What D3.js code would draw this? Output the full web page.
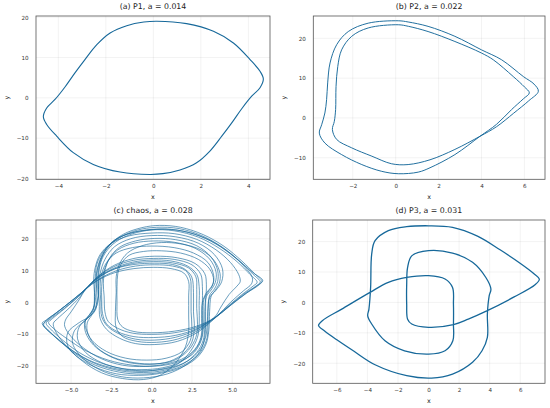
<!DOCTYPE html>
<html>
<head>
<meta charset="utf-8">
<script src="https://cdn.jsdelivr.net/npm/d3@7"></script>
<style>
  body { margin: 0; background: white; }
</style>
</head>
<body>
<div id="chart"></div>
<script>
// ---- data (x, y pairs along each trajectory) ----

// (a) period-1 orbit
let p1Orbit = [
  [-4.63,-4.7],[-4.49,-2.5],[-4.14,-0.4],[-3.72,2.7],[-3.3,6.2],[-2.88,9.5],[-2.38,13.2],
  [-1.82,16.1],[-1.12,17.9],[-0.4,18.8],[0.15,19.0],[1.4,18.4],[2.53,16.5],[3.37,13.6],
  [4.07,9.5],[4.49,6.6],[4.63,4.7],[4.49,2.5],[4.14,0.4],[3.72,-2.7],[3.3,-6.2],[2.88,-9.5],
  [2.38,-13.2],[1.82,-16.1],[1.12,-17.9],[0.4,-18.8],[-0.15,-19.0],[-1.4,-18.4],[-2.53,-16.5],
  [-3.37,-13.6],[-4.07,-9.5],[-4.49,-6.6]
];

// (b) period-2 orbit
let p2Orbit = [
  [0.12,24.4],[-1.28,23.8],[-2.21,21.7],[-2.75,18.4],[-3.06,13.8],[-3.17,8.8],[-3.22,4.6],
  [-3.3,1.25],[-3.45,-1.7],[-3.56,-3.8],[-3.3,-6.3],[-2.52,-9.2],[-1.58,-11.7],[-0.65,-13.4],
  [0.12,-14.0],[1.05,-13.6],[1.6,-12.5],[2.76,-9.2],[3.93,-4.6],
  [4.7,-1.6],[5.4,2.1],[5.95,4.8],[6.23,6.3],
  [6.0,7.8],[5.48,10.4],[4.55,14.6],[4.0,16.3],[2.76,19.2],[1.51,21.7],[0.6,23.0],[0.12,23.4],
  [-1.28,22.6],[-2.05,20.5],[-2.52,17.1],[-2.7,12.9],[-2.78,7.9],[-2.8,2.1],[-2.86,-0.85],
  [-2.95,-2.9],[-2.75,-5.4],[-2.05,-7.5],[-1.11,-9.6],[-0.19,-11.5],[0.58,-11.7],[1.6,-10.5],
  [2.76,-7.9],[3.93,-4.6],
  [4.7,-2.2],[5.5,1.2],[6.2,4.3],[6.65,6.7],
  [6.45,8.5],[5.95,10.4],[4.94,14.6],[4.0,17.1],[2.76,20.5],[1.51,23.0],[0.58,24.1]
];

// (c) chaotic trajectory, traced pass by pass
let chaosPass1 = [
  [-3.3,2],[-3.35,6],[-3.3,10],[-3.1,14],[-2.6,18],[-1.8,21.3],[-0.6,23.5],[0.5,24.2],[1.8,23.6],
  [3.2,21.3],[4.5,17.6],[5.6,13],[6.4,9],[6.85,6.6],[6.6,5.4],[5.8,2.6],[4.9,-0.9],[4.0,-4.6],
  [2.8,-7.9],[1.4,-9.6],[0,-10.1],[-1.2,-9.7],[-2.1,-8.2],[-2.7,-6],[-2.9,-3],[-2.95,2],[-3.0,6],
  [-2.9,10],[-2.6,14],[-2.0,17.3],[-1.0,19.3],[0.2,20.1],[1.5,19.7],[2.8,17.8],[3.7,14.2],[4.1,10],
  [4.1,6.5],[3.9,4.2],[3.6,2.2],[3.5,-2],[3.45,-7],[3.35,-11],[3.0,-15],[2.2,-18.6],[1.0,-20.8],
  [-0.3,-21.6],[-1.7,-21],[-3.2,-19],[-4.5,-15.8],[-5.6,-11.6],[-6.3,-8.3],[-6.55,-6.6],[-6.3,-5.3],
  [-5.5,-2.2],[-4.6,1.6],[-4.1,4.1],[-3.3,7.2],[-2.2,9.9],[-1.0,11.4],[0.2,11.8],[1.3,11.4],[2.1,10],
  [2.4,7.5],[2.45,3],[2.45,-3],[2.5,-8],[2.4,-12],[1.9,-15.5],[0.9,-17.6],[-0.3,-18.2],
  [-1.6,-17.6],[-2.8,-15.5],[-3.7,-12],[-4.1,-8],[-4.1,-5.6],[-3.85,-3.8],[-3.6,-1.5],[-3.55,3],[-3.5,8]
];
let chaosPass2 = [
  [-3.4,12],[-3.0,16],[-2.3,19.5],[-1.3,21.8],[0,22.8],[1.4,22.5],[2.9,20.5],[4.2,17],[5.3,12.8],
  [6.1,8.8],[6.55,6.3],[6.3,5.1],[5.6,2.4],[4.8,-1],[4.0,-4.5],[2.8,-8.6],[1.5,-11],[0.2,-11.9],
  [-1.0,-11.6],[-2.0,-10],[-2.75,-7.5],[-3.1,-4.5],[-3.15,0],[-3.2,5],
  [-3.1,9],[-2.8,12.5],[-2.2,15.5],[-1.2,17.2],[0,17.7],[1.4,17.2],[2.6,15.5],[3.5,12.5],[3.85,8.5],
  [3.8,5.5],[3.5,3.2],[3.25,1],[3.2,-4],[3.2,-9],[3.0,-13],[2.5,-16.5],[1.5,-19],[0.2,-20.1],
  [-1.2,-19.8],[-2.7,-18.2],[-4.1,-15.2],[-5.3,-11.3],[-6.1,-8.2],[-6.4,-6.4],[-6.15,-5.1],[-5.4,-2],
  [-4.55,1.8],[-4.1,4.2],[-3.4,7.6],[-2.4,10.6],[-1.2,12.6],[0,13.3],[1.2,13],[2.2,11.5],[2.8,8.8],
  [2.95,5],[2.95,-1],[2.95,-7],[2.85,-11],[2.4,-15.5],[1.6,-19.5],[0.4,-21.2],
  [-1.0,-21.7],[-2.5,-20.6],[-3.9,-18.2],[-5.2,-14.2],[-6.2,-10],[-6.7,-7.3],[-6.6,-6],[-5.9,-3.2],
  [-4.9,0.7],[-4.15,4.0],[-3.3,8.3],[-2.3,11.7],[-1.1,13.8],[0.2,14.5],[1.6,14.0],[2.7,12.2],[3.3,9],
  [3.4,5.5],[3.35,0],[3.35,-6],[3.3,-11],[3.0,-15.5],[2.2,-19.5],[1.0,-22.5],[-0.5,-23.8]
];
let chaosPass3 = [
  [-1.9,-23.4],[-3.2,-21.3],[-4.3,-17.5],[-4.9,-13],[-4.8,-9],[-4.2,-6],[-3.8,-4],[-3.55,-1],
  [-3.45,4],[-3.4,9],
  [-3.2,13],[-2.8,16.8],[-2.0,20.3],[-0.9,22.7],[0.3,23.6],[1.7,23.2],[3.1,21],[4.4,17.3],[5.5,12.8],
  [6.3,8.8],[6.75,6.4],[6.5,5.2],[5.7,2.5],[4.85,-1],[4.0,-4.7],[2.9,-9.3],[1.6,-12.3],[0.2,-13.3],
  [-1.0,-13],[-2.0,-11.3],[-2.8,-8.5],[-3.2,-5],[-3.25,0],[-3.3,4],
  [-3.2,9],[-2.9,13.5],[-2.3,17.5],[-1.3,20],[0,21],[1.5,20.6],[2.9,18.6],[3.9,15],[4.4,10.5],
  [4.35,6.5],[4.0,3.8],[3.6,1.5],[3.5,-3],[3.5,-8],[3.4,-12],[2.9,-16.5],[1.9,-20],[0.6,-22],[-0.6,-22.6],
  [-2.0,-22],[-3.5,-19.8],[-4.8,-16],[-5.9,-11.3],[-6.5,-8.3],[-6.8,-6.6],[-6.55,-5.6],[-5.7,-2.5],
  [-4.75,1.4],[-4.1,4.1],[-3.3,7.8],[-2.3,10.5],[-1.1,11.9],[0.2,12.3],[1.3,11.9],[2.1,10.3],[2.5,7.8],
  [2.6,3],[2.6,-3],[2.65,-8],[2.5,-12.5],[2.0,-16],[1.1,-18.6],[-0.1,-19.5],
  [-1.4,-19],[-2.6,-17],[-3.6,-13.5],[-4.1,-9.5],[-4.15,-6.2],[-3.9,-4.2],[-3.6,-2],[-3.55,3],[-3.6,7]
];
let chaosPass4 = [
  [-3.5,11],[-3.2,15],[-2.5,18.6],[-1.4,20.9],[0,21.8],[1.4,21.6],[2.8,19.8],[4.0,16.5],[4.9,12.5],
  [5.4,8.8],[5.5,6.5],[5.3,5.1],[4.8,2.4],[4.3,-1.5],[3.9,-4.7],[2.8,-7.5],[1.4,-9.1],[0,-9.6],
  [-1.1,-9.2],[-1.8,-7.8],[-2.1,-5.5],[-2.15,0],[-2.15,5],[-2.1,9],
  [-1.9,12],[-1.4,14.8],[-0.5,16],[0.6,16.2],[1.8,15.5],[2.9,13.5],[3.6,10.5],[3.85,7],[3.7,4.8],
  [3.4,3],[3.15,0],[3.1,-5],[3.1,-10],[2.8,-14],[2.1,-17.3],[1.0,-19.3],[-0.4,-20.2],
  [-1.8,-19.8],[-3.1,-17.8],[-4.2,-14.5],[-5.0,-10.8],[-5.4,-7.5],[-5.35,-5.6],[-5.0,-3],[-4.5,0.8],
  [-4.1,4],[-3.3,7],[-2.3,9.3],[-1.1,10.6],[0.1,11],[1.2,10.6],[2.0,9.2],[2.3,6.5],[2.3,2],[2.3,-4],
  [2.3,-9],[2.1,-14],[1.5,-19],[0.6,-22.8],[-0.5,-24.3],
  [-1.8,-24],[-3.1,-22.2],[-4.3,-18.5],[-5.2,-13.8],[-5.2,-9.5],[-4.5,-6.4],[-3.8,-4.2],[-3.4,-1],[-3.3,2]
];
let chaosPass5 = [
  [-3.3,6],[-3.25,10.5],[-3.0,14.5],[-2.4,18.3],[-1.5,21],[-0.3,22.6],[0.9,23],[2.3,22],[3.7,19.3],
  [4.9,15.3],[5.8,11],[6.25,7.8],[6.2,5.8],[5.7,3.6],[4.9,0],[4.0,-4.6],[2.9,-8.8],[1.6,-11.6],
  [0.3,-12.6],[-0.9,-12.3],[-1.8,-10.8],[-2.2,-8],[-2.25,-3],[-2.2,3],[-2.2,8],
  [-2.0,12],[-1.5,15.5],[-0.6,17.8],[0.6,18.8],[1.9,18.3],[3.1,16.4],[3.9,13],[4.25,9],[4.2,6],
  [3.95,3.8],[3.7,2],[3.6,-3],[3.55,-9],[3.35,-13.5],[2.8,-17.5],[1.8,-20.6],[0.5,-22.4],[-0.8,-23],
  [-2.2,-22.5],[-3.6,-20.2],[-4.7,-16.8],[-5.5,-12.6],[-6.0,-8.8],[-6.1,-6.6],[-5.85,-5.2],[-5.2,-2.2],
  [-4.5,1.4],[-4.1,4.1],[-3.4,7.4],[-2.4,10.3],[-1.2,12.2],[0.1,12.8],[1.3,12.4],[2.3,10.8],[2.75,8],
  [2.8,4],[2.8,-2],[2.85,-7],[2.75,-11],[2.3,-15],[1.4,-18.3],[0.2,-19.4],
  [-1.1,-19],[-2.4,-17.3],[-3.4,-14.2],[-3.95,-10],[-4.0,-6.5],[-3.75,-4.3],[-3.45,-2],[-3.4,3],[-3.45,8]
];
let chaosPass6 = [
  [-3.3,12],[-2.95,16],[-2.3,19.6],[-1.2,21.9],[0.1,23],[1.5,22.8],[3.0,20.8],[4.3,17.4],[5.4,13.2],
  [6.3,9.3],[6.9,6.9],[6.7,5.6],[5.9,2.9],[4.95,-0.8],[4.0,-4.6],[2.85,-8.2],[1.5,-10.4],[0.1,-11.1],
  [-1.1,-10.8],[-2.1,-9.3],[-2.8,-6.8],[-3.05,-3.5],[-3.1,1],[-3.1,5],
  [-3.0,9],[-2.7,13],[-2.1,16.5],[-1.1,18.6],[0.1,19.3],[1.4,18.9],[2.7,17],[3.6,13.6],[4.0,9.5],
  [3.95,6.2],[3.7,3.9],[3.4,1.8],[3.3,-3],[3.3,-8],[3.2,-12],[2.8,-15.8],[2.0,-19.2],[0.8,-21.4],[-0.5,-22.1],
  [-1.9,-21.6],[-3.4,-19.5],[-4.7,-16],[-5.8,-11.6],[-6.5,-8.6],[-6.75,-7],[-6.5,-5.8],[-5.8,-2.9],
  [-4.85,0.9],[-4.1,4.1],[-3.35,8],[-2.35,11.2],[-1.15,13.2],[0.1,13.8],[1.4,13.5],[2.5,11.8],[3.05,8.8],
  [3.15,5],[3.15,-1],[3.15,-7],[3.1,-11],[2.7,-15],[1.9,-18.5],[0.7,-20.6],[-0.6,-21.2],
  [-1.9,-20.8],[-3.1,-19],[-4.1,-15.8],[-4.6,-11.5],[-4.5,-7.8],[-4.0,-5.2],[-3.6,-3],[-3.4,0],[-3.3,2]
];
let chaosTrack = [].concat(chaosPass1, chaosPass2, chaosPass3, chaosPass4, chaosPass5, chaosPass6);

// (d) period-3 orbit
let p3Orbit = [
  [-7.2,-7.6],[-6.95,-6.0],[-5.68,-2.2],[-3.83,3.3],[-2.63,6.6],[-1.43,8.2],[0,8.8],
  [1.08,7.7],[1.57,4.9],[1.63,-0.6],[1.63,-7.1],[1.59,-12.6],[1.08,-15.9],[0,-17.0],[-1.57,-15.9],
  [-2.85,-12.6],[-3.72,-7.1],[-3.98,-4.4],[-3.9,-2.2],[-3.79,4.9],[-3.72,15.9],[-3.5,20.3],[-2.63,23.6],
  [-1.43,24.9],[0,25.2],[1.57,24.7],[3.2,21.8],[4.68,17.3],[5.99,12.9],[6.86,9.6],[7.25,7.6],
  [6.97,5.8],[5.6,1.8],[3.81,-2.8],[2.6,-5.5],[1.63,-7.3],[0,-8.2],[-1.1,-7.1],[-1.37,-5.5],
  [-1.43,-0.6],[-1.43,5.9],[-1.37,11.5],[-1.1,15.3],[0,17.0],[1.57,16.2],[2.88,13.2],[3.75,8.2],
  [4.08,4.4],[3.97,2.2],[3.85,-3.8],[3.85,-11.5],[3.5,-15.9],[2.88,-19.7],[1.57,-23.6],[0.2,-24.9],
  [-1.43,-24.1],[-3.5,-20.5],[-4.9,-16],[-6.0,-12.3],[-6.8,-9.4]
];

// titles and tick values
let titles = ['(a) P1, a = 0.014', '(b) P2, a = 0.022', '(c) chaos, a = 0.028', '(d) P3, a = 0.031'];
let xTicksA = [-4, -2, 0, 2, 4],           yTicksA = [-20, -10, 0, 10, 20];
let xTicksB = [-2, 0, 2, 4, 6],            yTicksB = [-10, 0, 10, 20];
let xTicksC = [-5, -2.5, 0, 2.5, 5],       yTicksC = [-20, -10, 0, 10, 20];
let xTicksD = [-6, -4, -2, 0, 2, 4, 6],    yTicksD = [-20, -10, 0, 10, 20];

// ---- drawing ----
let width = 550, height = 408;
let lineColor = '#16689a';
let font = 'DejaVu Sans, sans-serif';

let svg = d3.select('#chart')
  .append('svg')
  .attr('width', width)
  .attr('height', height)
  .style('background', 'white');

function drawPanel(p) {
  let x = d3.scaleLinear().domain(p.xDomain).range([p.left, p.right]);
  let y = d3.scaleLinear().domain(p.yDomain).range([p.bottom, p.top]);
  let g = svg.append('g');

  // faint grid
  g.selectAll('.gx').data(p.xTicks).enter().append('line')
    .attr('x1', d => x(d)).attr('x2', d => x(d))
    .attr('y1', p.top).attr('y2', p.bottom)
    .attr('stroke', '#000').attr('stroke-opacity', 0.09).attr('stroke-width', 0.6);
  g.selectAll('.gy').data(p.yTicks).enter().append('line')
    .attr('x1', p.left).attr('x2', p.right)
    .attr('y1', d => y(d)).attr('y2', d => y(d))
    .attr('stroke', '#000').attr('stroke-opacity', 0.09).attr('stroke-width', 0.6);

  // trajectory
  let curve = p.closed ? d3.curveCatmullRomClosed.alpha(0.5) : d3.curveCatmullRom.alpha(0.5);
  let line = d3.line().x(d => x(d[0])).y(d => y(d[1])).curve(curve);
  g.append('path')
    .datum(p.data)
    .attr('d', line)
    .attr('fill', 'none')
    .attr('stroke', lineColor)
    .attr('stroke-width', p.lw)
    .attr('stroke-opacity', p.op)
    .attr('stroke-linejoin', 'round');

  // frame
  g.append('rect')
    .attr('x', p.left).attr('y', p.top)
    .attr('width', p.right - p.left).attr('height', p.bottom - p.top)
    .attr('fill', 'none').attr('stroke', '#555').attr('stroke-width', 0.8);

  // axes (labels only, frame drawn above)
  let xAxis = g.append('g')
    .attr('transform', `translate(0, ${p.bottom})`)
    .call(d3.axisBottom(x).tickValues(p.xTicks).tickFormat(p.xFmt).tickSize(0).tickPadding(4.5));
  let yAxis = g.append('g')
    .attr('transform', `translate(${p.left}, 0)`)
    .call(d3.axisLeft(y).tickValues(p.yTicks).tickFormat(d3.format('d')).tickSize(0).tickPadding(7.5));
  [xAxis, yAxis].forEach(a => {
    a.select('.domain').remove();
    a.attr('font-family', font).attr('font-size', 5.6);
    a.selectAll('text').attr('fill', '#333');
  });

  // title and axis labels
  g.append('text')
    .text(p.title)
    .attr('x', (p.left + p.right) / 2)
    .attr('y', p.top - 7.5)
    .attr('text-anchor', 'middle')
    .attr('font-family', font).attr('font-size', 7.8).attr('fill', '#222');
  g.append('text')
    .text('x')
    .attr('x', (p.left + p.right) / 2)
    .attr('y', p.bottom + 20)
    .attr('text-anchor', 'middle')
    .attr('font-family', font).attr('font-size', 6.4).attr('fill', '#222');
  g.append('text')
    .text('y')
    .attr('transform', `translate(${p.left - 27.5}, ${(p.top + p.bottom) / 2}) rotate(-90)`)
    .attr('text-anchor', 'middle')
    .attr('font-family', font).attr('font-size', 6.4).attr('fill', '#222');
}

let fmtInt = d3.format('d'), fmtOne = d3.format('.1f');

drawPanel({ title: titles[0], data: p1Orbit, closed: true, lw: 1.1, op: 1,
  left: 36, right: 270, top: 16, bottom: 179.3,
  xDomain: [-4.94, 4.91], yDomain: [-20.2, 20.3], xTicks: xTicksA, yTicks: yTicksA, xFmt: fmtInt });

drawPanel({ title: titles[1], data: p2Orbit, closed: true, lw: 1.0, op: 0.95,
  left: 313.3, right: 545, top: 16, bottom: 179.3,
  xDomain: [-3.84, 6.96], yDomain: [-15.4, 25.6], xTicks: xTicksB, yTicks: yTicksB, xFmt: fmtInt });

drawPanel({ title: titles[2], data: chaosTrack, closed: false, lw: 0.8, op: 0.8,
  left: 36, right: 270, top: 220, bottom: 383.3,
  xDomain: [-7.18, 7.35], yDomain: [-25.5, 25.9], xTicks: xTicksC, yTicks: yTicksC, xFmt: fmtOne });

drawPanel({ title: titles[3], data: p3Orbit, closed: true, lw: 1.3, op: 1,
  left: 312.7, right: 545, top: 220, bottom: 383.3,
  xDomain: [-7.58, 7.62], yDomain: [-26.6, 27.1], xTicks: xTicksD, yTicks: yTicksD, xFmt: fmtInt });
</script>
</body>
</html>
